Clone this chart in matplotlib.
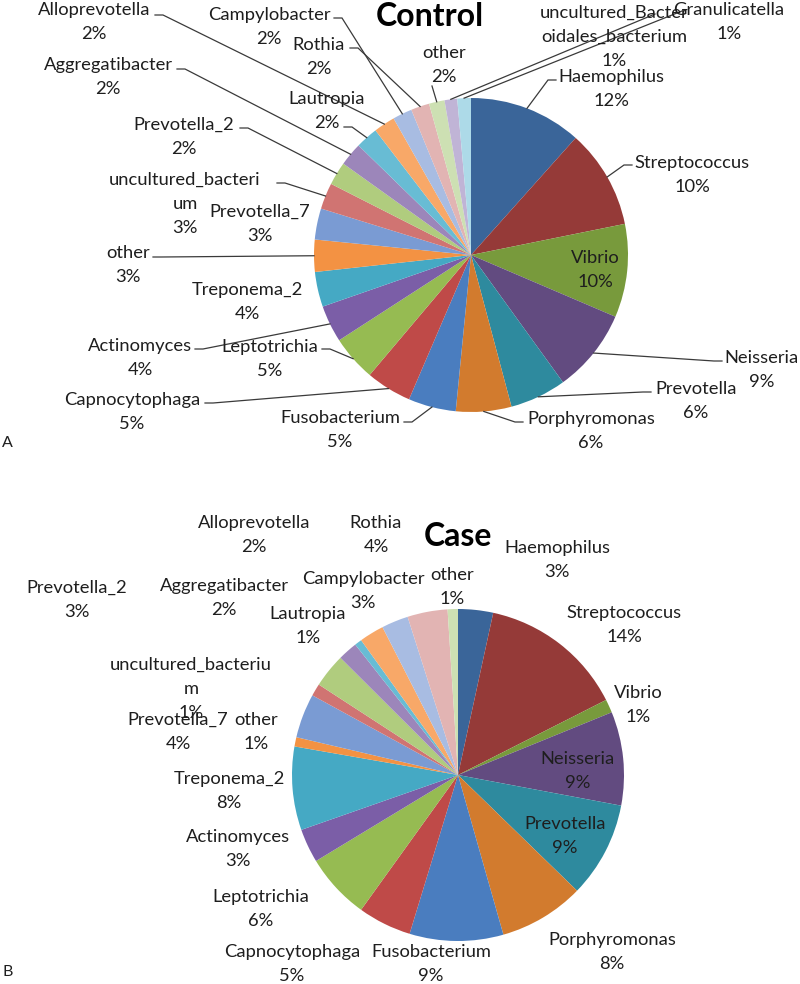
import numpy as np
import matplotlib
matplotlib.use('Agg')
import matplotlib.pyplot as plt

W, H = 800, 984

# slice shares (percent of total)
control_labels = ['Haemophilus', 'Streptococcus', 'Vibrio', 'Neisseria', 'Prevotella',
                  'Porphyromonas', 'Fusobacterium', 'Capnocytophaga', 'Leptotrichia',
                  'Actinomyces', 'Treponema_2', 'other', 'Prevotella_7',
                  'uncultured_bacteri\num', 'Prevotella_2', 'Aggregatibacter', 'Lautropia',
                  'Alloprevotella', 'Campylobacter', 'Rothia', 'other',
                  'uncultured_Bacter\noidales_bacterium', 'Granulicatella']
control_values = [11.6, 10.2, 9.6, 8.6, 5.8, 5.7, 4.9, 4.7, 4.7, 3.8, 3.6, 3.3, 3.2,
                  2.7, 2.4, 2.4, 2.3, 2.2, 2.0, 1.9, 1.6, 1.3, 1.4]

case_labels = ['Haemophilus', 'Streptococcus', 'Vibrio', 'Neisseria', 'Prevotella',
               'Porphyromonas', 'Fusobacterium', 'Capnocytophaga', 'Leptotrichia',
               'Actinomyces', 'Treponema_2', 'other', 'Prevotella_7',
               'uncultured_bacteriu\nm', 'Prevotella_2', 'Aggregatibacter', 'Lautropia',
               'Alloprevotella', 'Campylobacter', 'Rothia', 'other']
case_values = [3.4, 14.1, 1.3, 9.1, 9.3, 8.3, 9.1, 5.2, 6.4, 3.3, 8.1, 0.9, 4.3,
               1.2, 3.3, 1.9, 0.7, 2.4, 2.6, 3.9, 1.0]

colors = ['#3a6599', '#953a38', '#789a3c', '#624b80', '#2e8a9e', '#d27b2e',
          '#4a7dbf', '#bf4a48', '#96bb52', '#7b5ea7', '#45a9c4', '#f39243',
          '#7a9bd3', '#d07472', '#b0cc7e', '#9c86ba', '#68bcd4', '#f8a868',
          '#a8bce2', '#e2b4b3', '#cde0b3', '#c0b4d6', '#addae8']

# layout in pixels, measured from the top left corner
control_center = (471, 255)
control_radius = 157
case_center = (458, 775)
case_radius = 166

control_text_pos = [(611, 77), (692, 163), (595, 258), (762, 358), (696, 389),
                    (591, 419), (340, 418), (132, 400), (270, 347), (140, 346),
                    (247, 290), (128, 253), (260, 212), (185, 180), (184, 125),
                    (108, 65), (327, 99), (94, 10), (269, 15), (319, 45),
                    (444, 53), (614, 13), (729, 10)]
# leader line start (x, y, elbow length); None = no line
control_leader = [(556, 80, -8), (632, 165, -8), None, (722, 361, -8), (651, 392, -8),
                  (523, 422, -8), (404, 422, 8), (205, 403, 8), (322, 349, 8),
                  (195, 349, 8), None, (153, 257, 8), None, (277, 183, 8),
                  (240, 128, 8), (177, 69, 8), (344, 127, 8), (155, 15, 8),
                  (334, 18, 8), (350, 48, 8), (432, 86, 0), (655, 14, 0),
                  (682, 11, 0)]

case_text_pos = [(557, 548), (624, 613), (638, 693), (578, 759), (565, 824),
                 (612, 940), (431, 952), (292, 952), (261, 897), (238, 837),
                 (229, 779), (256, 720), (178, 720), (191, 665), (77, 588),
                 (224, 586), (308, 614), (254, 523), (363, 579), (376, 523),
                 (452, 575)]

FONT = 'Lato'
FS = 13.2
LINE_GAP = 24
TXT = '#1e1e1e'


def px(x, y):
    return x, H - y


def draw_pie(ax, values, labels, center, radius, text_pos, leaders=None):
    cx, cy = px(*center)
    wedges, _ = ax.pie(values, colors=colors[:len(values)], startangle=90,
                       counterclock=False, center=(cx, cy), radius=radius,
                       wedgeprops={'linewidth': 0})
    total = float(sum(values))
    for i, (w, lab) in enumerate(zip(wedges, labels)):
        lines = lab.split('\n') + ['{:.0f}%'.format(100 * values[i] / total)]
        x0, y0 = text_pos[i]
        for k, s in enumerate(lines):
            ax.text(*px(x0, y0 + k * LINE_GAP), s, ha='center', va='center',
                    fontsize=FS, family=FONT, color=TXT)
        if leaders is not None and leaders[i] is not None:
            lx, ly, elbow = leaders[i]
            mid = np.deg2rad((w.theta1 + w.theta2) / 2)
            ex = cx + radius * np.cos(mid)
            ey = cy + radius * np.sin(mid)
            sx, sy = px(lx, ly)
            ax.plot([sx, sx + elbow, ex], [sy, sy, ey], color='#3a3a3a', lw=0.9,
                    solid_joinstyle='miter')


fig = plt.figure(figsize=(W / 100, H / 100), dpi=100)
ax = fig.add_axes([0, 0, 1, 1])

draw_pie(ax, control_values, control_labels, control_center, control_radius,
         control_text_pos, control_leader)
draw_pie(ax, case_values, case_labels, case_center, case_radius, case_text_pos)

ax.text(*px(430, 16), 'Control', ha='center', va='center', fontsize=23,
        fontweight='bold', family=FONT, color='black')
ax.text(*px(458, 537), 'Case', ha='center', va='center', fontsize=23,
        fontweight='bold', family=FONT, color='black')
ax.text(*px(7, 443), 'A', ha='center', va='center', fontsize=11.5, family=FONT, color=TXT)
ax.text(*px(8, 972), 'B', ha='center', va='center', fontsize=11.5, family=FONT, color=TXT)

ax.set_xlim(0, W)
ax.set_ylim(0, H)
ax.set_aspect('auto')
ax.axis('off')

plt.savefig('out.png', dpi=100)
